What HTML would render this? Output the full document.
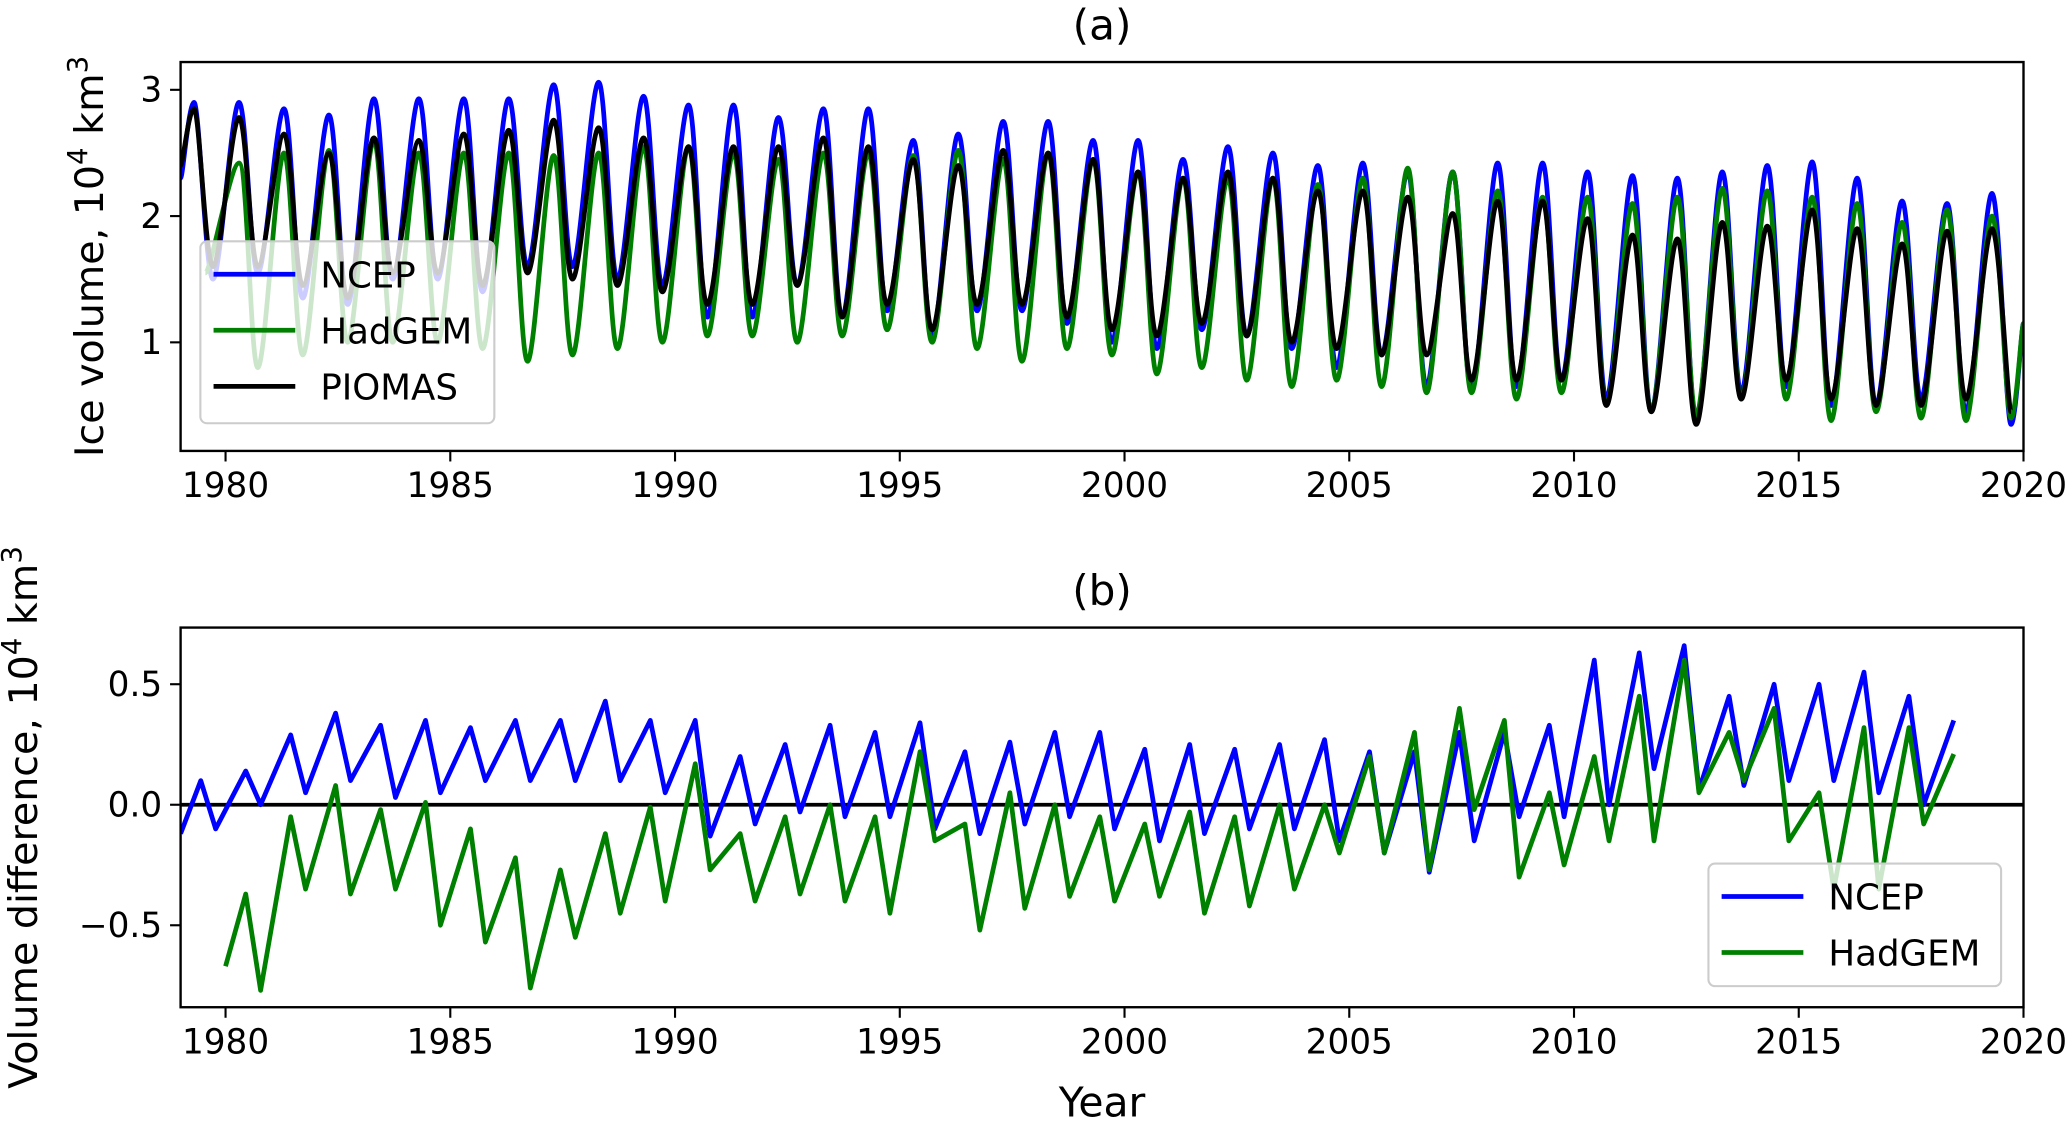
<!DOCTYPE html>
<html><head><meta charset="utf-8"><style>
html,body{margin:0;padding:0;background:#fff}
svg{display:block}
text{font-family:"DejaVu Sans","Liberation Sans",sans-serif;fill:#000}
</style></head><body>
<svg id="fig" width="2067" height="1122" viewBox="0 0 1568 851" xmlns="http://www.w3.org/2000/svg">
<g id="pa"></g>
<g id="pb"></g>
</svg>
<script>
// ---- data (years, annual maxima / minima) ----
const years = [];
for (let y = 1979; y <= 2019; y++) years.push(y);
const ncepMaxA = [2.9,2.9,2.85,2.8,2.93,2.93,2.93,2.93,3.04,3.06,2.95,2.88,2.88,2.78,2.85,2.85,2.6,2.65,2.75,2.75,2.6,2.6,2.45,2.55,2.5,2.4,2.42,2.35,2.35,2.42,2.42,2.35,2.32,2.3,2.35,2.4,2.43,2.3,2.12,2.1,2.18];
const ncepMinA = [1.5,1.55,1.35,1.3,1.5,1.5,1.4,1.6,1.6,1.5,1.45,1.2,1.2,1.45,1.2,1.25,1.05,1.25,1.25,1.15,1.0,0.95,1.1,1.05,0.95,0.8,0.9,0.65,0.62,0.65,0.7,0.55,0.45,0.38,0.6,0.65,0.5,0.5,0.55,0.45,0.35];
const hadMaxA = [null,2.42,2.5,2.52,2.6,2.5,2.5,2.5,2.48,2.5,2.55,2.55,2.5,2.45,2.5,2.5,2.48,2.52,2.45,2.5,2.45,2.35,2.3,2.3,2.3,2.25,2.3,2.38,2.35,2.2,2.15,2.15,2.1,2.15,2.22,2.2,2.15,2.1,1.95,2.05,2.0];
const hadMinA = [null,0.8,0.9,1.0,1.0,1.0,0.95,0.85,0.9,0.95,1.0,1.05,1.05,1.0,1.05,1.1,1.0,0.95,0.85,0.95,0.9,0.75,0.8,0.7,0.65,0.7,0.65,0.6,0.6,0.55,0.6,0.5,0.45,0.42,0.55,0.55,0.38,0.45,0.4,0.38,0.4];
const pioMaxA = [2.85,2.78,2.65,2.5,2.62,2.6,2.65,2.68,2.76,2.7,2.62,2.55,2.55,2.55,2.62,2.55,2.45,2.4,2.52,2.5,2.45,2.35,2.3,2.35,2.3,2.2,2.2,2.15,2.02,2.12,2.12,1.98,1.85,1.82,1.95,1.92,2.05,1.9,1.78,1.88,1.9];
const pioMinA = [1.6,1.6,1.45,1.35,1.55,1.55,1.45,1.55,1.5,1.45,1.4,1.3,1.3,1.45,1.2,1.3,1.1,1.3,1.3,1.2,1.1,1.05,1.15,1.05,1.0,0.95,0.9,0.9,0.7,0.7,0.7,0.5,0.45,0.35,0.55,0.7,0.55,0.5,0.5,0.55,0.45];
const yearsB = [];
for (let y = 1979; y <= 2018; y++) yearsB.push(y);
const ncepMaxB = [0.1,0.14,0.29,0.38,0.33,0.35,0.32,0.35,0.35,0.43,0.35,0.35,0.2,0.25,0.33,0.3,0.34,0.22,0.26,0.3,0.3,0.23,0.25,0.23,0.25,0.27,0.22,0.22,0.3,0.3,0.33,0.6,0.63,0.66,0.45,0.5,0.5,0.55,0.45,0.35];
const ncepMinB = [-0.1,0.0,0.05,0.1,0.03,0.05,0.1,0.1,0.1,0.1,0.05,-0.13,-0.08,-0.03,-0.05,-0.05,-0.1,-0.12,-0.08,-0.05,-0.1,-0.15,-0.12,-0.1,-0.1,-0.15,-0.2,-0.28,-0.15,-0.05,-0.05,0.0,0.15,0.06,0.08,0.1,0.1,0.05,0.0,0.0];
const hadMaxB = [null,-0.37,-0.05,0.08,-0.02,0.01,-0.1,-0.22,-0.27,-0.12,-0.01,0.17,-0.12,-0.05,0.0,-0.05,0.22,-0.08,0.05,0.0,-0.05,-0.08,-0.03,-0.05,0.0,0.0,0.2,0.3,0.4,0.35,0.05,0.2,0.45,0.6,0.3,0.4,0.05,0.32,0.32,0.21];
const hadMinB = [null,-0.77,-0.35,-0.37,-0.35,-0.5,-0.57,-0.76,-0.55,-0.45,-0.4,-0.27,-0.4,-0.37,-0.4,-0.45,-0.15,-0.52,-0.43,-0.38,-0.4,-0.38,-0.45,-0.42,-0.35,-0.2,-0.2,-0.27,-0.02,-0.3,-0.25,-0.15,-0.15,0.05,0.1,-0.15,-0.35,-0.35,-0.08,-0.22];
const xTicks = [1980,1985,1990,1995,2000,2005,2010,2015,2020];
const yTicksA = [1,2,3];
const yTicksB = [-0.5,0.0,0.5];
const yTickLabelsB = ["\u22120.5","0.0","0.5"];

// ---- layout ----
const NS = "http://www.w3.org/2000/svg";
const L = 137, R = 1535;
const x = v => L + (v - 1979) / (2020 - 1979) * (R - L);
const A = {top:47, bot:342, y0:3.22, y1:0.14};
const B = {top:476, bot:764, y0:0.735, y1:-0.84};
const yA = v => A.top + (A.y0 - v) / (A.y0 - A.y1) * (A.bot - A.top);
const yB = v => B.top + (B.y0 - v) / (B.y0 - B.y1) * (B.bot - B.top);

function el(tag, attrs, parent, txt) {
  const e = document.createElementNS(NS, tag);
  for (const k in attrs) e.setAttribute(k, attrs[k]);
  if (txt !== undefined) e.textContent = txt;
  parent.appendChild(e);
  return e;
}
function smoothPath(pts) {
  let d = "M" + pts[0][0].toFixed(1) + "," + pts[0][1].toFixed(1);
  for (let i = 0; i < pts.length - 1; i++) {
    const p0 = pts[Math.max(0, i - 1)], p1 = pts[i], p2 = pts[i + 1], p3 = pts[Math.min(pts.length - 1, i + 2)];
    const c1x = p1[0] + (p2[0] - p0[0]) / 6, c2x = p2[0] - (p3[0] - p1[0]) / 6;
    d += " C" + c1x.toFixed(1) + "," + p1[1].toFixed(1) + " " + c2x.toFixed(1) + "," + p2[1].toFixed(1) + " " + p2[0].toFixed(1) + "," + p2[1].toFixed(1);
  }
  return d;
}
function extremes(yrs, mx, mn, pPh, mPh, fy) {
  const pts = [];
  yrs.forEach((yr, i) => {
    if (mx[i] === null) return;
    pts.push([x(yr + pPh), fy(mx[i])]);
    pts.push([x(yr + mPh), fy(mn[i])]);
  });
  return pts;
}

const pa = document.getElementById('pa'), pb = document.getElementById('pb');
const cpA = el('clipPath', {id:'ca'}, pa); el('rect', {x:L, y:A.top, width:R-L, height:A.bot-A.top}, cpA);
const cpB = el('clipPath', {id:'cb'}, pb); el('rect', {x:L, y:B.top, width:R-L, height:B.bot-B.top}, cpB);

// panel a series
const gA = el('g', {'clip-path':'url(#ca)'}, pa);
const sA = [
  {name:'ncep-line-a', mx:ncepMaxA, mn:ncepMinA, c:'#0000ff', start:[1979,2.3]},
  {name:'hadgem-line-a', mx:hadMaxA, mn:hadMinA, c:'#008000', start:[1979.55,1.55]},
  {name:'piomas-line-a', mx:pioMaxA, mn:pioMinA, c:'#000000', start:[1979,2.4]}
];
sA.forEach(s => {
  let pts = extremes(years, s.mx, s.mn, 0.3, 0.72, yA);
  pts.unshift([x(s.start[0]), yA(s.start[1])]);
  if (s.name !== 'piomas-line-a') pts.push([x(2020), yA(1.15)]);
  const p = el('path', {d:smoothPath(pts), fill:'none', stroke:s.c, 'stroke-width':3.6, 'stroke-linejoin':'round'}, gA);
  
  
});

// panel b
const gB = el('g', {'clip-path':'url(#cb)'}, pb);
const zl = el('line', {x1:L, x2:R, y1:yB(0), y2:yB(0), stroke:'#000', 'stroke-width':2.8}, gB);


const sB = [
  {name:'ncep-line-b', mx:ncepMaxB, mn:ncepMinB, c:'#0000ff', start:[1979,-0.12]},
  {name:'hadgem-line-b', mx:hadMaxB, mn:hadMinB, c:'#008000', start:[1980,-0.67]}
];
sB.forEach(s => {
  let pts = extremes(yearsB, s.mx, s.mn, 0.45, 0.78, yB);
  pts.unshift([x(s.start[0]), yB(s.start[1])]);
  pts.pop();
  const d = pts.map((p, i) => (i ? 'L' : 'M') + p[0].toFixed(1) + ',' + p[1].toFixed(1)).join(' ');
  const p = el('path', {d:d, fill:'none', stroke:s.c, 'stroke-width':3.6, 'stroke-linejoin':'round'}, gB);
  
  
});

// axes
function axes(g, P, fy, yt, ytl, lab, labX, title) {
  el('rect', {x:L, y:P.top, width:R-L, height:P.bot-P.top, fill:'none', stroke:'#000', 'stroke-width':1.8}, g);
  xTicks.forEach(t => {
    el('line', {x1:x(t), x2:x(t), y1:P.bot, y2:P.bot + 8, stroke:'#000', 'stroke-width':1.6}, g);
    const tx = el('text', {x:x(t), y:P.bot + 35, 'font-size':26, 'text-anchor':'middle'}, g, String(t));
    
    
  });
  yt.forEach((t, i) => {
    el('line', {x1:L - 8, x2:L, y1:fy(t), y2:fy(t), stroke:'#000', 'stroke-width':1.6}, g);
    const tx = el('text', {x:L - 14, y:fy(t) + 9, 'font-size':26, 'text-anchor':'end'}, g, ytl[i]);
    
    
  });
  const cy = (P.top + P.bot) / 2;
  const yl = el('text', {x:labX, y:cy, 'font-size':30, 'text-anchor':'middle', transform:'rotate(-90 ' + labX + ' ' + cy + ')'}, g);
  yl.innerHTML = lab + ', 10<tspan dy="-12" font-size="21">4</tspan><tspan dy="12"> km</tspan><tspan dy="-12" font-size="21">3</tspan>';
  
  
  const tt = el('text', {x:(L + R) / 2, y:P.top - 17, 'font-size':32, 'text-anchor':'middle'}, g, title);
  
  
}
axes(pa, A, yA, yTicksA, yTicksA.map(String), 'Ice volume', 78, '(a)');
axes(pb, B, yB, yTicksB, yTickLabelsB, 'Volume difference', 28, '(b)');
const xt = el('text', {x:(L + R) / 2, y:847, 'font-size':31, 'text-anchor':'middle'}, pb, 'Year');



// legends
function legend(g, bx, by, bw, bh, items, name) {
  const lg = el('g', {}, g);
  
  
  el('rect', {x:bx, y:by, width:bw, height:bh, rx:5, fill:'rgba(255,255,255,0.8)', stroke:'#cccccc', 'stroke-width':1.6}, lg);
  items.forEach((it, i) => {
    const yy = by + 25 + i * 42.5;
    el('line', {x1:bx + 10, x2:bx + 72, y1:yy, y2:yy, stroke:it[1], 'stroke-width':3.6}, lg);
    const t = el('text', {x:bx + 91, y:yy + 10, 'font-size':27}, lg, it[0]);
    
    
  });
}
legend(pa, 152, 183, 223, 138, [['NCEP','#0000ff'],['HadGEM','#008000'],['PIOMAS','#000000']], 'legend-a');
legend(pb, 1296, 655, 222, 93, [['NCEP','#0000ff'],['HadGEM','#008000']], 'legend-b');
</script>
</body></html>
